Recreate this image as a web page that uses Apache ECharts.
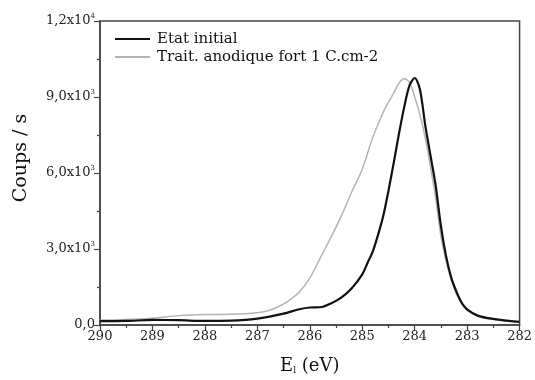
<!DOCTYPE html>
<html>
<head>
<meta charset="utf-8">
<script src="https://cdn.jsdelivr.net/npm/echarts@6/dist/echarts.min.js"></script>
<style>html,body{margin:0;padding:0;background:#fff}#c{width:535px;height:380px}</style>
</head>
<body>
<div id="c"></div>
<script>
const seriesNames = ['Etat initial', 'Trait. anodique fort 1 C.cm-2'];
const energyInitial = [290.0,289.5,289.0,288.5,288.0,287.5,287.0,286.5,286.2,286.0,285.8,285.6,285.4,285.2,285.0,284.9,284.8,284.7,284.6,284.5,284.4,284.3,284.2,284.1,284.0,283.9,283.8,283.7,283.6,283.5,283.4,283.3,283.2,283.1,283.0,282.8,282.6,282.4,282.2,282.0];
const countsInitial = [150,160,200,190,160,170,250,450,620,690,700,850,1080,1450,2000,2450,2900,3550,4300,5300,6400,7550,8600,9450,9750,9300,7900,6700,5500,3900,2700,1850,1300,870,620,370,270,210,160,120];
const energyTrait = [290.0,289.5,289.0,288.5,288.0,287.5,287.0,286.8,286.6,286.4,286.2,286.0,285.8,285.6,285.4,285.2,285.0,284.8,284.6,284.5,284.4,284.3,284.2,284.1,284.0,283.9,283.8,283.7,283.6,283.5,283.4,283.3,283.2,283.1,283.0,282.8,282.6,282.4,282.2,282.0];
const countsTrait = [200,220,270,370,410,420,480,560,720,960,1300,1850,2650,3450,4300,5250,6150,7400,8400,8800,9150,9550,9720,9580,9000,8300,7400,6250,5000,3500,2500,1750,1200,820,580,350,250,200,160,130];
const xTicks = [290,289,288,287,286,285,284,283,282];
const yTicks = [0,3000,6000,9000,12000];
const yTickLabels = ['0,0', '3,0x10|3', '6,0x10|3', '9,0x10|3', '1,2x10|4'];

const chart = echarts.init(document.getElementById('c'));
const font = 'DejaVu Serif';
const axisColor = '#444';
chart.setOption({
  animation: false,
  backgroundColor: '#fff',
  textStyle: { fontFamily: font },
  grid: { left: 100, right: 15, top: 21, bottom: 52, show: true, borderColor: axisColor, borderWidth: 1.5 },
  legend: {
    orient: 'vertical', left: 115, top: 30, itemWidth: 35, itemHeight: 2, itemGap: 0, icon: 'rect', padding: 0,
    textStyle: { fontFamily: font, fontSize: 15, color: '#111', padding: [0,0,0,2], lineHeight: 18 },
    data: seriesNames
  },
  xAxis: {
    type: 'value', inverse: true, min: 282, max: 290, interval: 1,
    name: 'E{sub|l} (eV)', nameLocation: 'middle', nameGap: 32,
    nameTextStyle: { fontFamily: font, fontSize: 18, color: '#111',
      rich: { sub: { fontSize: 9, verticalAlign: 'bottom', fontFamily: font, color: '#111', padding: [8,0,0,0] } } },
    axisLine: { show: true, onZero: false, lineStyle: { color: axisColor, width: 1.5 } },
    axisTick: { show: true, inside: false, length: 6, lineStyle: { color: axisColor, width: 1.2 } },
    minorTick: { show: true, splitNumber: 2, length: 3, lineStyle: { color: axisColor, width: 1.2 } },
    splitLine: { show: false },
    axisLabel: { fontFamily: font, fontSize: 13, color: '#222', margin: 5,
      formatter: v => xTicks.includes(v) ? String(v) : '' }
  },
  yAxis: {
    type: 'value', min: 0, max: 12000, interval: 3000,
    name: 'Coups / s', nameLocation: 'middle', nameGap: 69, nameRotate: 90,
    nameTextStyle: { fontFamily: font, fontSize: 19, color: '#111', padding: [0,0,0,30] },
    axisLine: { show: true, lineStyle: { color: axisColor, width: 1.5 } },
    axisTick: { show: true, inside: false, length: 6, lineStyle: { color: axisColor, width: 1.2 } },
    minorTick: { show: true, splitNumber: 2, length: 3, lineStyle: { color: axisColor, width: 1.2 } },
    splitLine: { show: false },
    axisLabel: { fontFamily: font, fontSize: 13, color: '#222', margin: 5,
      formatter: v => {
        const i = yTicks.indexOf(v);
        if (i < 0) return '';
        const parts = yTickLabels[i].split('|');
        return parts.length > 1 ? '{b|' + parts[0] + '}{s|' + parts[1] + '}' : '{b|' + parts[0] + '}';
      },
      rich: {
        b: { fontFamily: font, fontSize: 13, color: '#222', lineHeight: 16 },
        s: { fontFamily: font, fontSize: 7, color: '#222', verticalAlign: 'top', lineHeight: 16 }
      }
    }
  },
  series: [
    { name: seriesNames[0], type: 'line', symbol: 'none', smooth: 0.3,
      lineStyle: { color: '#111', width: 2.2 }, itemStyle: { color: '#111' },
      data: energyInitial.map((e, i) => [e, countsInitial[i]]), z: 3 },
    { name: seriesNames[1], type: 'line', symbol: 'none', smooth: 0.3,
      lineStyle: { color: '#b4b4b4', width: 1.5 }, itemStyle: { color: '#b4b4b4' },
      data: energyTrait.map((e, i) => [e, countsTrait[i]]), z: 2 }
  ]
});
</script>
</body>
</html>
